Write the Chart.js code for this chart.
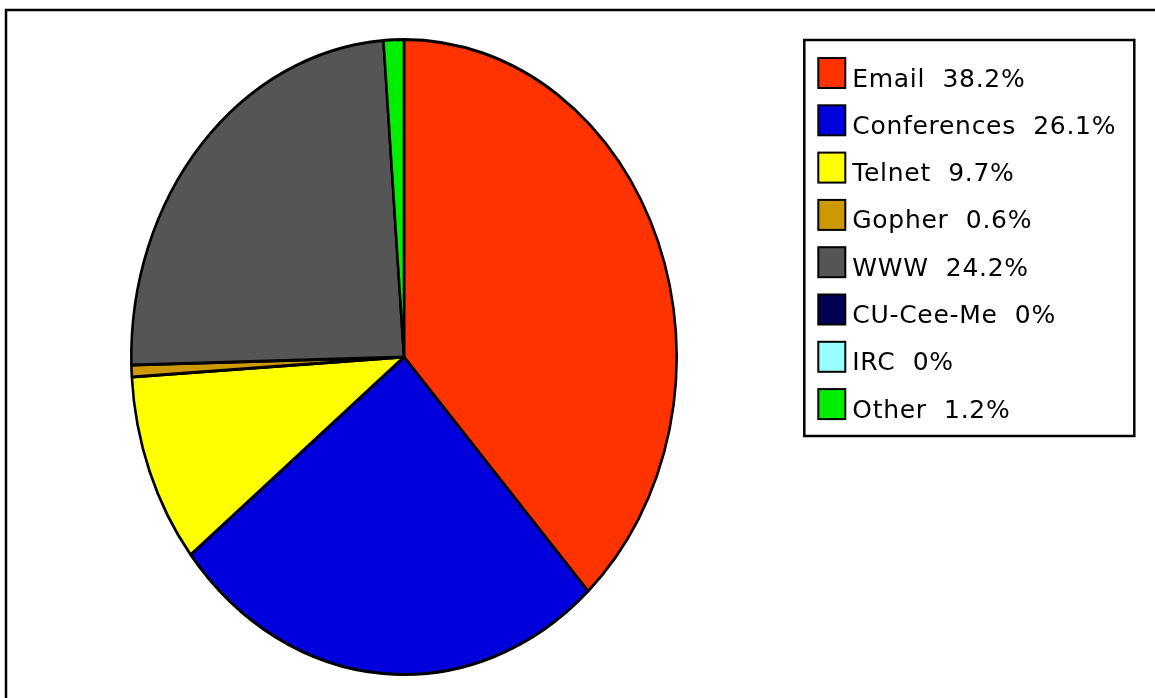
<!DOCTYPE html>
<html>
<head>
<meta charset="utf-8">
<title>Internet usage by service</title>
<script src="https://cdn.jsdelivr.net/npm/chart.js@4/dist/chart.umd.min.js"></script>
<style>
  html, body { margin: 0; padding: 0; background: #ffffff; }
  canvas { display: block; }
</style>
</head>
<body>
<canvas id="chart" width="1155" height="698"></canvas>
<script>
// Services and their share of total usage (percent)
const categories = ['Email', 'Conferences', 'Telnet', 'Gopher', 'WWW', 'CU-Cee-Me', 'IRC', 'Other'];
const shares = [38.2, 26.1, 9.7, 0.6, 24.2, 0, 0, 1.2];
const sliceColors = ['#ff3300', '#0000dd', '#ffff00', '#cc9900', '#555555', '#000055', '#99ffff', '#00ee00'];

// Horizontal squash applied to the pie so it draws as an upright ellipse
const X_SQUASH = 274 / 319;

const LEGEND_FONT = '25px "DejaVu Sans", Verdana, sans-serif';

const ellipsePie = {
  id: 'ellipsePie',
  beforeDatasetsDraw(chart) {
    const arc = chart.getDatasetMeta(0).data[0];
    const ctx = chart.ctx;
    ctx.save();
    ctx.translate(arc.x, 0);
    ctx.scale(X_SQUASH, 1);
    ctx.translate(-arc.x, 0);
  },
  afterDatasetsDraw(chart) {
    chart.ctx.restore();
  }
};

// Outer page frame plus the boxed legend on the right
const frameAndLegend = {
  id: 'frameAndLegend',
  afterDraw(chart) {
    const ctx = chart.ctx;
    const area = chart.chartArea;
    ctx.save();

    // outer frame (runs off the right and bottom edges)
    ctx.strokeStyle = '#000000';
    ctx.lineWidth = 2.5;
    ctx.strokeRect(6, 10, chart.width + 10, chart.height + 10);

    // legend frame
    const left = area.right + 1.3;
    const top = area.top + 2;
    ctx.lineWidth = 2.5;
    ctx.strokeRect(left, top, 330, 396);

    const rowPitch = 47.3;
    ctx.font = LEGEND_FONT;
    if ('letterSpacing' in ctx) ctx.letterSpacing = '0.7px';
    ctx.textAlign = 'left';
    ctx.textBaseline = 'alphabetic';
    const ds = chart.data.datasets[0];
    chart.data.labels.forEach((label, i) => {
      const rowTop = top + 18 + i * rowPitch;
      ctx.fillStyle = ds.backgroundColor[i];
      ctx.fillRect(left + 14, rowTop, 27, 30);
      ctx.lineWidth = 2;
      ctx.strokeStyle = '#000000';
      ctx.strokeRect(left + 14, rowTop, 27, 30);
      ctx.fillStyle = '#000000';
      ctx.fillText(label + '  ' + ds.data[i] + '%', left + 48, rowTop + 28.5);
    });
    ctx.restore();
  }
};

new Chart(document.getElementById('chart'), {
  type: 'pie',
  data: {
    labels: categories,
    datasets: [{
      data: shares,
      backgroundColor: sliceColors,
      borderColor: '#000000',
      borderWidth: 3,
      hoverOffset: 0
    }]
  },
  options: {
    responsive: false,
    animation: false,
    devicePixelRatio: 1,
    layout: { padding: { left: 5, right: 352, top: 38, bottom: 22 } },
    plugins: {
      legend: { display: false },
      tooltip: { enabled: false }
    }
  },
  plugins: [ellipsePie, frameAndLegend]
});
</script>
</body>
</html>
